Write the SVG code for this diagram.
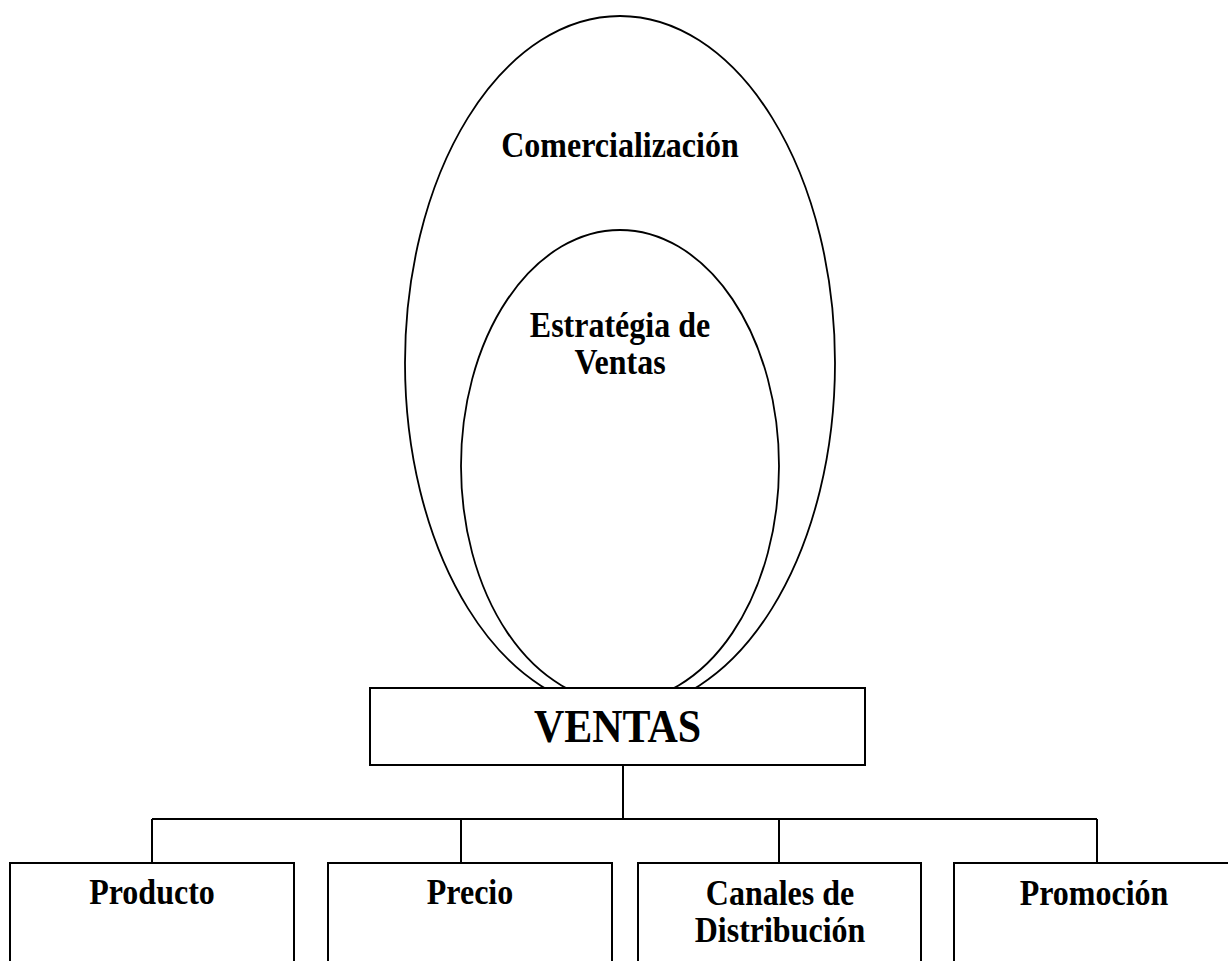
<svg xmlns="http://www.w3.org/2000/svg" width="1228" height="961" viewBox="0 0 1228 961">
<style>
.sh{fill:none;stroke:#000;stroke-width:1.8}
.bx{fill:#fff;stroke:#000;stroke-width:2}
.ln{fill:none;stroke:#000;stroke-width:2}
.t{font-family:"Liberation Serif","Times New Roman",serif;font-weight:bold;font-size:32px;fill:#000;text-anchor:middle}
.big{font-size:42px}
</style>
<rect width="1228" height="961" fill="#fff"/>
<g id="comercializacion">
<ellipse class="sh" cx="620" cy="363" rx="215" ry="347"/>
<text class="t" transform="translate(620 156.5) scale(1 1.1)">Comercialización</text>
</g>
<g id="estrategia">
<ellipse class="sh" cx="620" cy="466" rx="159" ry="236"/>
<text class="t" transform="translate(620 337) scale(1 1.1)">Estratégia de</text>
<text class="t" transform="translate(620 374) scale(1 1.1)">Ventas</text>
</g>
<g id="connectors">
<path class="ln" d="M623 765V819M152 819H1097M152 819V863M461 819V863M779 819V863M1097 819V863"/>
</g>
<g id="ventas">
<rect class="bx" x="370" y="688" width="495" height="77"/>
<text class="t big" transform="translate(617.5 741.5) scale(1 1.08)">VENTAS</text>
</g>
<g id="producto">
<rect class="bx" x="10" y="863" width="284" height="120"/>
<text class="t" transform="translate(152 904) scale(1 1.1)">Producto</text>
</g>
<g id="precio">
<rect class="bx" x="328" y="863" width="284" height="120"/>
<text class="t" transform="translate(470 904) scale(1 1.1)">Precio</text>
</g>
<g id="canales">
<rect class="bx" x="638" y="863" width="283" height="120"/>
<text class="t" transform="translate(780 905) scale(1 1.1)">Canales de</text>
<text class="t" transform="translate(780 942) scale(1 1.1)">Distribución</text>
</g>
<g id="promocion">
<rect class="bx" x="954" y="863" width="290" height="120"/>
<text class="t" transform="translate(1094 905) scale(1 1.1)">Promoción</text>
</g>
</svg>
